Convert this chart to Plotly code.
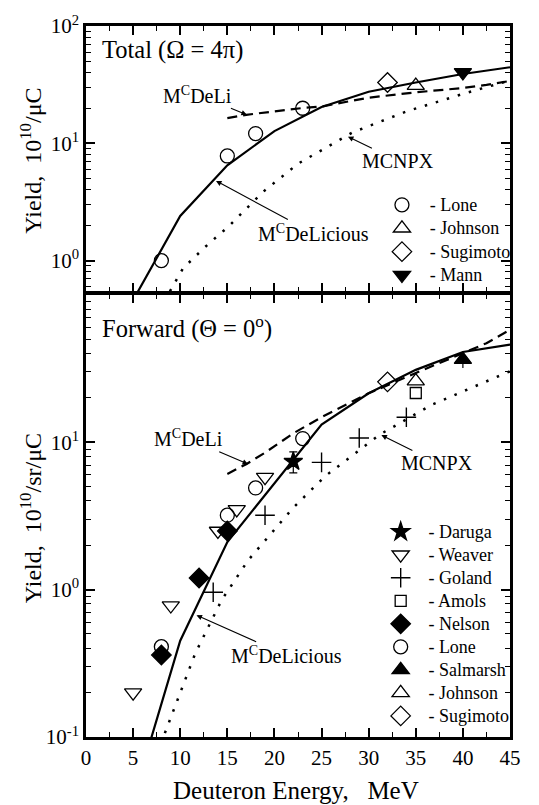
import plotly.graph_objects as go
import numpy as np

# ---------------- DATA ----------------
# Top panel (Total, 4pi) -- curves
top_delicious_E = [5, 10, 15, 20, 25, 30, 35, 40, 45]
top_delicious_Y = [0.46, 2.4, 6.5, 12.7, 20.4, 27.5, 33, 39, 44.5]
top_deli_E = [15, 17, 20, 23, 25, 30, 35, 40, 42.5, 45]
top_deli_Y = [16.4, 17.5, 18.7, 20, 20.6, 24.5, 27.2, 29.6, 31.5, 34]
top_mcnpx_E = [8.3, 9.0, 10.3, 12.7, 15.2, 18.8, 22.5, 28.3, 34.1, 40.3, 45]
top_mcnpx_Y = [0.45, 0.56, 0.86, 1.32, 1.98, 3.86, 6.7, 12.4, 18.8, 26.8, 34.4]

# Top panel -- measurements
top_lone_E, top_lone_Y = [8, 15, 18, 23], [1.0, 7.8, 12.1, 19.9]
top_johnson_E, top_johnson_Y = [35], [31]
top_sugimoto_E, top_sugimoto_Y = [32], [33]
top_mann_E, top_mann_Y = [40], [40.2]

# Bottom panel (Forward, 0 deg) -- curves
bot_delicious_E = [5, 10, 15, 20, 25, 30, 35, 40, 45]
bot_delicious_Y = [0.038, 0.45, 2.1, 5.3, 13.2, 21.5, 31, 41, 46]
bot_deli_E = [15, 17, 19, 22, 25, 30, 35, 40, 42.5, 45]
bot_deli_Y = [6.1, 7.1, 8.5, 11.5, 14.8, 21.5, 29.5, 40, 47, 58]
bot_mcnpx_E = [7.5, 8.2, 11.6, 14.4, 17.2, 22, 25.4, 31.2, 36.8, 45]
bot_mcnpx_Y = [0.076, 0.1, 0.37, 0.85, 1.58, 3.6, 5.9, 11.3, 18.1, 30.3]

# Bottom panel -- measurements
daruga_E, daruga_Y, daruga_err = [22], [7.4], [1.2]
weaver_E, weaver_Y = [5, 9, 14, 16, 19], [0.2, 0.78, 2.5, 3.5, 5.8]
goland_E, goland_Y = [13.5, 19, 25, 29, 34], [0.96, 3.2, 7.3, 10.7, 14.8]
amols_E, amols_Y = [35], [21.6]
nelson_E, nelson_Y = [8, 12, 15], [0.36, 1.2, 2.5]
bot_lone_E, bot_lone_Y = [8, 15, 18, 23], [0.41, 3.2, 4.9, 10.6]
salmarsh_E, salmarsh_Y, salmarsh_err_minus = [40], [36.4], [4.5]
bot_johnson_E, bot_johnson_Y = [35], [26]
bot_sugimoto_E, bot_sugimoto_Y = [32], [25.7]

x_ticks = [0, 5, 10, 15, 20, 25, 30, 35, 40, 45]
top_y_ticks = [1, 10, 100]
top_y_text = ["10<sup>0</sup>", "10<sup>1</sup>", "10<sup>2</sup>"]
bot_y_ticks = [0.1, 1, 10, 100]
bot_y_text = ["10<sup>-1</sup>", "10<sup>0</sup>", "10<sup>1</sup>", ""]

# ---------------- STYLE ----------------
FONT = "'Liberation Serif', 'Times New Roman', Times, serif"
BLACK = "black"
W, H = 539, 805
ML, MR, MT, MB = 86, 28.5, 22.7, 68.3
PW, PH = W - ML - MR, H - MT - MB
LW = 2.5
BOUND = 292.0            # pixel row of the panel boundary
SPLIT = (H - MB - BOUND) / PH
TOP_LO = (H - MB - (BOUND - LW)) / PH   # overlap so both boundary lines coincide
TOP_DEC = 117.8          # px per decade (top)
top_range = [-0.286 + LW / TOP_DEC, 2]


def px_to_paper_y(py):
    return (H - MB - py) / PH


def px_to_paper_x(px):
    return (px - ML) / PW


fig = go.Figure()


def curve(xs, ys, dash, xa, ya, width=2):
    fig.add_trace(go.Scatter(x=xs, y=ys, mode="lines", xaxis=xa, yaxis=ya,
                             line=dict(color=BLACK, width=width, dash=dash),
                             showlegend=False, hoverinfo="skip"))


def pts(xs, ys, symbol, name, xa, ya, legend, size=14, err=None, lw=1.3):
    kw = {}
    if err is not None:
        kw["error_y"] = err
    fig.add_trace(go.Scatter(x=xs, y=ys, mode="markers", xaxis=xa, yaxis=ya,
                             marker=dict(symbol=symbol, size=size, color=BLACK,
                                         line=dict(color=BLACK, width=lw)),
                             name="\u00a0\u00a0<span style='font-size:18px'>- " + name + "</span>",
                             legend=legend, **kw))


# top panel curves (x2, y2)
curve(top_delicious_E, top_delicious_Y, "solid", "x2", "y2", 2.2)
curve(top_deli_E, top_deli_Y, "10px,6px", "x2", "y2", 2.2)
curve(top_mcnpx_E, top_mcnpx_Y, "2.5px,9px", "x2", "y2", 2.5)

# bottom panel curves (x, y)
curve(bot_delicious_E, bot_delicious_Y, "solid", "x", "y", 2.2)
curve(bot_deli_E, bot_deli_Y, "10px,6px", "x", "y", 2.2)
curve(bot_mcnpx_E, bot_mcnpx_Y, "2.5px,9px", "x", "y", 2.5)

# top markers
pts(top_lone_E, top_lone_Y, "circle-open", "Lone", "x2", "y2", "legend")
pts(top_johnson_E, top_johnson_Y, "triangle-up-open", "Johnson", "x2", "y2", "legend", size=15)
pts(top_sugimoto_E, top_sugimoto_Y, "diamond-open", "Sugimoto", "x2", "y2", "legend", size=15)
pts(top_mann_E, top_mann_Y, "triangle-down", "Mann", "x2", "y2", "legend", size=15)

# bottom markers
pts(daruga_E, daruga_Y, "star", "Daruga", "x", "y", "legend2", size=14,
    err=dict(type="data", array=daruga_err, color=BLACK, thickness=1.2, width=4))
pts(weaver_E, weaver_Y, "triangle-down-open", "Weaver", "x", "y", "legend2", size=15)
pts(goland_E, goland_Y, "cross-thin-open", "Goland", "x", "y", "legend2", size=14, lw=1.4)
pts(amols_E, amols_Y, "square-open", "Amols", "x", "y", "legend2", size=11)
pts(nelson_E, nelson_Y, "diamond", "Nelson", "x", "y", "legend2", size=15)
pts(bot_lone_E, bot_lone_Y, "circle-open", "Lone", "x", "y", "legend2")
pts(salmarsh_E, salmarsh_Y, "triangle-up", "Salmarsh", "x", "y", "legend2", size=15,
    err=dict(type="data", symmetric=False, array=[0], arrayminus=salmarsh_err_minus,
             color=BLACK, thickness=1.2, width=0))
pts(bot_johnson_E, bot_johnson_Y, "triangle-up-open", "Johnson", "x", "y", "legend2", size=15)
pts(bot_sugimoto_E, bot_sugimoto_Y, "diamond-open", "Sugimoto", "x", "y", "legend2", size=15)


def minor_log(lo, hi):
    vals = []
    for d in range(lo, hi):
        for m in range(2, 10):
            vals.append(m * 10 ** d)
    return vals


axis_common = dict(showline=True, linewidth=LW, linecolor=BLACK, mirror="ticks",
                   ticks="inside", ticklen=9, tickwidth=1.5, tickcolor=BLACK,
                   showgrid=False, zeroline=False,
                   tickfont=dict(family=FONT, size=21, color=BLACK))
minor_x = dict(ticks="inside", ticklen=5, tickwidth=1.2, dtick=2.5, tick0=0)
minor_y = dict(ticks="inside", ticklen=5, tickwidth=1.2, tickvals=minor_log(-1, 2))

fig.update_layout(
    width=W, height=H,
    margin=dict(l=ML, r=MR, t=MT, b=MB),
    plot_bgcolor="white", paper_bgcolor="white",
    font=dict(family=FONT, color=BLACK),
    xaxis=dict(domain=[0, 1], range=[0, 45], tickvals=x_ticks, anchor="y",
               minor=minor_x, **axis_common),
    yaxis=dict(domain=[0, SPLIT], type="log", range=[-1, 2.005], anchor="x",
               tickvals=bot_y_ticks, ticktext=bot_y_text, minor=minor_y, **axis_common),
    xaxis2=dict(domain=[0, 1], range=[0, 45], tickvals=x_ticks, anchor="y2", matches="x",
                showticklabels=False, minor=minor_x, **axis_common),
    yaxis2=dict(domain=[TOP_LO, 1], type="log", range=top_range, anchor="x2",
                tickvals=top_y_ticks, ticktext=top_y_text, minor=minor_y, **axis_common),
    legend=dict(x=0.698, y=px_to_paper_y(185.5), xanchor="left", yanchor="top",
                bgcolor="rgba(0,0,0,0)", borderwidth=0,
                font=dict(family=FONT, size=15.7, color=BLACK),
                itemclick=False, tracegroupgap=0),
    legend2=dict(x=0.695, y=px_to_paper_y(514), xanchor="left", yanchor="top",
                 bgcolor="rgba(0,0,0,0)", borderwidth=0,
                 font=dict(family=FONT, size=15.4, color=BLACK),
                 itemclick=False, tracegroupgap=0),
    showlegend=True,
)

ann_font = dict(family=FONT, size=20, color=BLACK)
title_font = dict(family=FONT, size=24, color=BLACK)


def arrow_label(text, x, y, ax, ay, xref, yref):
    fig.add_annotation(text=text, x=x, y=np.log10(y),
                       xref=xref, yref=yref, ax=ax, ay=ay, showarrow=True,
                       arrowhead=2, arrowsize=1, arrowwidth=1.1, arrowcolor=BLACK,
                       font=ann_font)


# top panel labels
arrow_label("M<sup>C</sup>DeLi", 17.07, 17.5, -49, -20, "x2", "y2")
arrow_label("MCNPX", 27.8, 11.4, 50, 24, "x2", "y2")
arrow_label("M<sup>C</sup>DeLicious", 13.8, 4.78, 97, 52, "x2", "y2")
# bottom panel labels
arrow_label("M<sup>C</sup>DeLi", 17.2, 7.1, -60, -26, "x", "y")
arrow_label("MCNPX", 31.35, 11.2, 56, 28, "x", "y")
arrow_label("M<sup>C</sup>DeLicious", 11.73, 0.67, 90, 40, "x", "y")

# panel titles
fig.add_annotation(text="Total (\u03a9 = 4\u03c0)", xref="paper", yref="paper",
                   x=px_to_paper_x(100), y=px_to_paper_y(46.7),
                   xanchor="left", yanchor="middle", showarrow=False,
                   font=dict(family=FONT, size=24.5, color=BLACK))
fig.add_annotation(text="Forward (\u0398 = 0<sup>o</sup>)", xref="paper", yref="paper",
                   x=px_to_paper_x(100), y=px_to_paper_y(325),
                   xanchor="left", yanchor="middle", showarrow=False,
                   font=dict(family=FONT, size=24.5, color=BLACK))

# axis titles
fig.add_annotation(text="Yield,\u00a0\u00a010<sup>10</sup>/\u03bcC", xref="paper", yref="paper",
                   x=px_to_paper_x(31), y=px_to_paper_y(158), textangle=-90,
                   xanchor="center", yanchor="middle", showarrow=False, font=title_font)
fig.add_annotation(text="Yield,\u00a0\u00a010<sup>10</sup>/sr/\u03bcC", xref="paper", yref="paper",
                   x=px_to_paper_x(31), y=px_to_paper_y(517), textangle=-90,
                   xanchor="center", yanchor="middle", showarrow=False, font=title_font)
fig.add_annotation(text="Deuteron Energy,\u00a0\u00a0\u00a0MeV", xref="paper", yref="paper",
                   x=px_to_paper_x(296), y=px_to_paper_y(790),
                   xanchor="center", yanchor="middle", showarrow=False,
                   font=dict(family=FONT, size=25, color=BLACK))

fig.write_html("out.html")
